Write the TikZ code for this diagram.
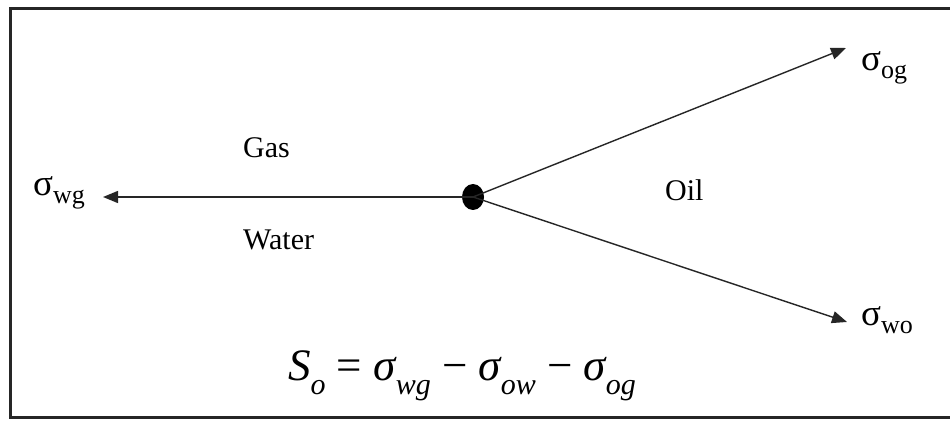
\documentclass[tikz,border=0pt]{standalone}
\usepackage{fontspec}
\setmainfont{Liberation Serif}
\usetikzlibrary{arrows.meta,shapes.geometric}
\newcommand\sigl[1]{σ\raisebox{-0.22em}{\fontsize{26}{26}\selectfont #1}}
\newcommand\fsub[1]{\raisebox{-0.3em}{\fontsize{30}{30}\selectfont\itshape #1}}
\tikzset{
  lbl/.style={inner sep=0pt, font=\fontsize{37}{37}\selectfont},
  wlbl/.style={inner sep=0pt, font=\fontsize{30}{30}\selectfont},
  arr/.style={line width=1.4pt, draw=black!85, -{Triangle[length=15pt,width=12pt]}},
}
\begin{document}
\begin{tikzpicture}[x=1pt,y=-1pt]
\useasboundingbox (0,0) rectangle (950,422);
\fill[white] (0,0) rectangle (950,422);
\draw[line width=3pt, draw=black!85] (10,9) rectangle (956,417);
\node[ellipse, fill=black, minimum width=22pt, minimum height=26pt, inner sep=0pt] (c) at (473,197) {};
\coordinate (tl) at (103,197);
\coordinate (tu) at (846,48);
\coordinate (td) at (847,322);
\draw[arr] (c.center) -- (tl);
\draw[arr] (c.center) -- (tu);
\draw[arr] (c.center) -- (td);
\node[lbl, anchor=west] (swg) at (33,193) {\sigl{wg}};
\node[lbl, anchor=west] (sog) at (861,68) {\sigl{og}};
\node[lbl, anchor=west] (swo) at (861,320) {\sigl{wo}};
\node[wlbl, anchor=west] (gas) at (243,148) {Gas};
\node[wlbl, anchor=west] (wat) at (243,240) {Water};
\node[wlbl, anchor=west] (oil) at (665,190) {Oil};
\node[inner sep=0pt, anchor=west, font=\fontsize{45}{45}\selectfont] (eq) at (288,376)
  {\itshape S\fsub{o}\upshape\ = \itshape σ\fsub{wg}\upshape\ − \itshape σ\fsub{ow}\upshape\ − \itshape σ\fsub{og}};
\end{tikzpicture}
\end{document}
